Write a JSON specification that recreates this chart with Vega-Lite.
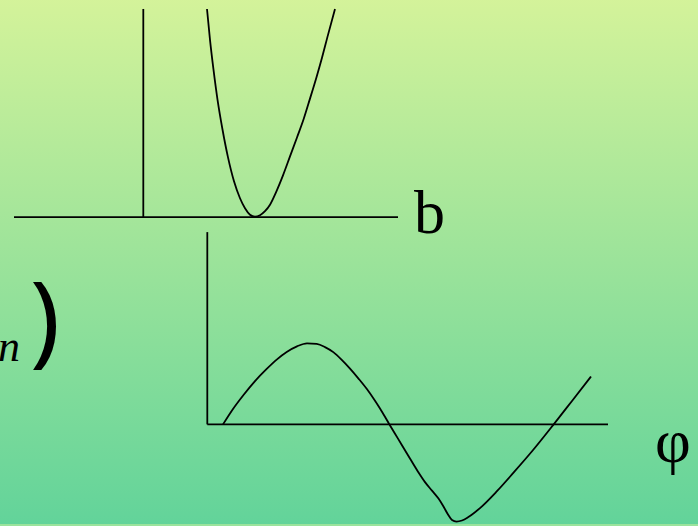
{
  "$schema": "https://vega.github.io/schema/vega-lite/v6.json",
  "width": 698,
  "height": 526,
  "padding": 0,
  "autosize": {"type": "fit", "contains": "padding"},
  "background": "#9ae39c",
  "config": {"view": {"stroke": null}},
  "datasets": {
    "bg": [{"x": -6, "x2": 704, "y": -6, "y2": 532}],
    "lines": [
      {"s": "ax1h", "kind": "axis", "i": 0, "x": 14, "y": 218},
      {"s": "ax1h", "kind": "axis", "i": 1, "x": 398, "y": 218},
      {"s": "ax1v", "kind": "axis", "i": 0, "x": 143.3, "y": 9},
      {"s": "ax1v", "kind": "axis", "i": 1, "x": 143.3, "y": 218},
      {"s": "ax2v", "kind": "axis", "i": 0, "x": 207.3, "y": 233},
      {"s": "ax2v", "kind": "axis", "i": 1, "x": 207.3, "y": 426},
      {"s": "ax2h", "kind": "axis", "i": 0, "x": 207.3, "y": 426},
      {"s": "ax2h", "kind": "axis", "i": 1, "x": 608, "y": 426},
      {"s": "parab", "kind": "curve", "i": 0, "x": 207, "y": 9},
      {"s": "parab", "kind": "curve", "i": 1, "x": 210, "y": 40},
      {"s": "parab", "kind": "curve", "i": 2, "x": 213.5, "y": 70},
      {"s": "parab", "kind": "curve", "i": 3, "x": 217.5, "y": 100},
      {"s": "parab", "kind": "curve", "i": 4, "x": 222.5, "y": 130},
      {"s": "parab", "kind": "curve", "i": 5, "x": 228, "y": 158},
      {"s": "parab", "kind": "curve", "i": 6, "x": 234, "y": 182},
      {"s": "parab", "kind": "curve", "i": 7, "x": 240, "y": 199},
      {"s": "parab", "kind": "curve", "i": 8, "x": 245, "y": 209},
      {"s": "parab", "kind": "curve", "i": 9, "x": 250, "y": 215.5},
      {"s": "parab", "kind": "curve", "i": 10, "x": 255, "y": 217.5},
      {"s": "parab", "kind": "curve", "i": 11, "x": 260, "y": 216},
      {"s": "parab", "kind": "curve", "i": 12, "x": 265, "y": 212},
      {"s": "parab", "kind": "curve", "i": 13, "x": 270, "y": 205.5},
      {"s": "parab", "kind": "curve", "i": 14, "x": 276, "y": 193},
      {"s": "parab", "kind": "curve", "i": 15, "x": 283, "y": 176},
      {"s": "parab", "kind": "curve", "i": 16, "x": 290, "y": 157},
      {"s": "parab", "kind": "curve", "i": 17, "x": 297, "y": 138},
      {"s": "parab", "kind": "curve", "i": 18, "x": 303.5, "y": 120},
      {"s": "parab", "kind": "curve", "i": 19, "x": 310, "y": 99},
      {"s": "parab", "kind": "curve", "i": 20, "x": 316.5, "y": 77.5},
      {"s": "parab", "kind": "curve", "i": 21, "x": 322, "y": 58},
      {"s": "parab", "kind": "curve", "i": 22, "x": 328, "y": 35},
      {"s": "parab", "kind": "curve", "i": 23, "x": 335, "y": 9},
      {"s": "sine", "kind": "curve", "i": 0, "x": 223, "y": 426},
      {"s": "sine", "kind": "curve", "i": 1, "x": 233, "y": 410.5},
      {"s": "sine", "kind": "curve", "i": 2, "x": 243.3, "y": 396.7},
      {"s": "sine", "kind": "curve", "i": 3, "x": 255, "y": 382.5},
      {"s": "sine", "kind": "curve", "i": 4, "x": 266.7, "y": 370.3},
      {"s": "sine", "kind": "curve", "i": 5, "x": 277, "y": 360.7},
      {"s": "sine", "kind": "curve", "i": 6, "x": 286.7, "y": 353.3},
      {"s": "sine", "kind": "curve", "i": 7, "x": 297, "y": 347.7},
      {"s": "sine", "kind": "curve", "i": 8, "x": 307, "y": 344.6},
      {"s": "sine", "kind": "curve", "i": 9, "x": 316.7, "y": 345.2},
      {"s": "sine", "kind": "curve", "i": 10, "x": 325, "y": 348.4},
      {"s": "sine", "kind": "curve", "i": 11, "x": 333.3, "y": 353.5},
      {"s": "sine", "kind": "curve", "i": 12, "x": 341.5, "y": 361},
      {"s": "sine", "kind": "curve", "i": 13, "x": 350, "y": 370},
      {"s": "sine", "kind": "curve", "i": 14, "x": 358.5, "y": 380},
      {"s": "sine", "kind": "curve", "i": 15, "x": 366.7, "y": 390.3},
      {"s": "sine", "kind": "curve", "i": 16, "x": 373.5, "y": 400},
      {"s": "sine", "kind": "curve", "i": 17, "x": 380, "y": 410},
      {"s": "sine", "kind": "curve", "i": 18, "x": 389, "y": 425.3},
      {"s": "sine", "kind": "curve", "i": 19, "x": 398, "y": 440.3},
      {"s": "sine", "kind": "curve", "i": 20, "x": 408, "y": 457},
      {"s": "sine", "kind": "curve", "i": 21, "x": 418, "y": 473.5},
      {"s": "sine", "kind": "curve", "i": 22, "x": 425, "y": 484},
      {"s": "sine", "kind": "curve", "i": 23, "x": 432, "y": 492.5},
      {"s": "sine", "kind": "curve", "i": 24, "x": 438.5, "y": 500.5},
      {"s": "sine", "kind": "curve", "i": 25, "x": 443.5, "y": 508.5},
      {"s": "sine", "kind": "curve", "i": 26, "x": 448, "y": 516.5},
      {"s": "sine", "kind": "curve", "i": 27, "x": 452, "y": 522},
      {"s": "sine", "kind": "curve", "i": 28, "x": 456.5, "y": 523.6},
      {"s": "sine", "kind": "curve", "i": 29, "x": 462, "y": 522.5},
      {"s": "sine", "kind": "curve", "i": 30, "x": 468, "y": 519.3},
      {"s": "sine", "kind": "curve", "i": 31, "x": 480, "y": 510},
      {"s": "sine", "kind": "curve", "i": 32, "x": 496.7, "y": 493.3},
      {"s": "sine", "kind": "curve", "i": 33, "x": 513.3, "y": 474.7},
      {"s": "sine", "kind": "curve", "i": 34, "x": 533.3, "y": 451.5},
      {"s": "sine", "kind": "curve", "i": 35, "x": 553.3, "y": 426.5},
      {"s": "sine", "kind": "curve", "i": 36, "x": 572, "y": 402.5},
      {"s": "sine", "kind": "curve", "i": 37, "x": 591, "y": 378}
    ],
    "labels": [
      {"label": "b", "x": 414, "y": 234},
      {"label": "φ", "x": 655, "y": 464},
      {"label": "n", "x": 20, "y": 362},
      {"label": ")", "x": 30, "y": 355}
    ]
  },
  "layer": [
    {
      "data": {"name": "bg"},
      "mark": {
        "type": "rect",
        "clip": true,
        "fill": {
          "gradient": "linear",
          "x1": 0, "y1": 0, "x2": 0, "y2": 1,
          "stops": [
            {"offset": 0, "color": "#d5f39a"},
            {"offset": 1, "color": "#61d39a"}
          ]
        }
      },
      "encoding": {
        "x": {"field": "x", "type": "quantitative", "scale": {"domain": [0, 698], "nice": false, "zero": false}, "axis": null},
        "x2": {"field": "x2"},
        "y": {"field": "y", "type": "quantitative", "scale": {"domain": [0, 526], "nice": false, "zero": false, "reverse": true}, "axis": null},
        "y2": {"field": "y2"}
      }
    },
    {
      "data": {"name": "lines"},
      "transform": [{"filter": "datum.kind === 'axis'"}],
      "mark": {"type": "line", "color": "#000000", "strokeWidth": 1.8},
      "encoding": {
        "x": {"field": "x", "type": "quantitative", "axis": null},
        "y": {"field": "y", "type": "quantitative", "axis": null},
        "detail": {"field": "s"},
        "order": {"field": "i", "type": "quantitative"}
      }
    },
    {
      "data": {"name": "lines"},
      "transform": [{"filter": "datum.kind === 'curve'"}],
      "mark": {"type": "line", "color": "#000000", "strokeWidth": 1.8, "interpolate": "monotone"},
      "encoding": {
        "x": {"field": "x", "type": "quantitative", "axis": null},
        "y": {"field": "y", "type": "quantitative", "axis": null},
        "detail": {"field": "s"},
        "order": {"field": "i", "type": "quantitative"}
      }
    },
    {
      "data": {"name": "labels"},
      "transform": [{"filter": "datum.label === 'b' || datum.label === 'φ'"}],
      "mark": {"type": "text", "font": "Liberation Serif", "fontSize": 62, "align": "left", "baseline": "alphabetic", "color": "#000000"},
      "encoding": {
        "x": {"field": "x", "type": "quantitative", "axis": null},
        "y": {"field": "y", "type": "quantitative", "axis": null},
        "text": {"field": "label"}
      }
    },
    {
      "data": {"name": "labels"},
      "transform": [{"filter": "datum.label === 'n'"}],
      "mark": {"type": "text", "clip": true, "font": "Liberation Serif", "fontStyle": "italic", "fontSize": 44, "align": "right", "baseline": "alphabetic", "color": "#000000"},
      "encoding": {
        "x": {"field": "x", "type": "quantitative", "axis": null},
        "y": {"field": "y", "type": "quantitative", "axis": null},
        "text": {"field": "label"}
      }
    },
    {
      "data": {"name": "labels"},
      "transform": [{"filter": "datum.label === ')'"}],
      "mark": {"type": "text", "font": "Noto Sans", "fontSize": 100, "align": "left", "baseline": "alphabetic", "color": "#000000"},
      "encoding": {
        "x": {"field": "x", "type": "quantitative", "axis": null},
        "y": {"field": "y", "type": "quantitative", "axis": null},
        "text": {"field": "label"}
      }
    }
  ]
}
